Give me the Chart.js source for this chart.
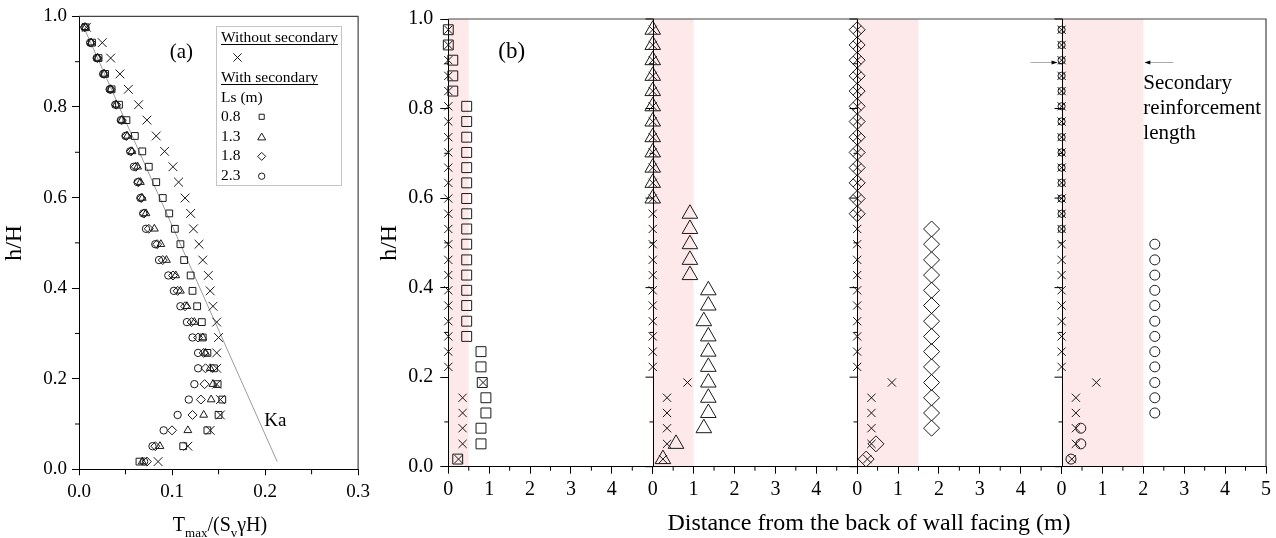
<!DOCTYPE html>
<html>
<head>
<meta charset="utf-8">
<script src="https://cdn.jsdelivr.net/npm/chart.js@4.4.1/dist/chart.umd.min.js"></script>
<style>
  html, body { margin: 0; padding: 0; background: #fff; }
  #wrap { position: relative; width: 1276px; height: 538px; overflow: hidden; }
  #boxA { position: absolute; left: 0; top: 0; width: 375px; height: 538px; }
  #boxB { position: absolute; left: 375px; top: 0; width: 901px; height: 538px; }
</style>
</head>
<body>
<div id="wrap">
  <div id="boxA"><canvas id="chartA"></canvas></div>
  <div id="boxB"><canvas id="chartB"></canvas></div>
</div>
<script>
// h/H of the 29 reinforcement layers, bottom to top
const levels = [0.017, 0.051, 0.086, 0.120, 0.154, 0.188, 0.223, 0.257, 0.291, 0.325,
  0.360, 0.394, 0.428, 0.462, 0.497, 0.531, 0.565, 0.599, 0.634, 0.668,
  0.702, 0.736, 0.771, 0.805, 0.839, 0.873, 0.908, 0.942, 0.976];

// secondary reinforcement lengths Ls (m)
const lsLengths = [0.8, 1.3, 1.8, 2.3];

// panel (a): Tmax/(Sv*gamma*H) per layer
const tWithout = [0.085, 0.117, 0.141, 0.152, 0.152, 0.148, 0.148, 0.148, 0.150, 0.148,
  0.144, 0.141, 0.139, 0.133, 0.129, 0.123, 0.120, 0.114, 0.107, 0.101,
  0.092, 0.083, 0.073, 0.064, 0.053, 0.044, 0.034, 0.025, 0.008];
const tLs08 = [0.065, 0.112, 0.138, 0.150, 0.154, 0.149, 0.145, 0.138, 0.133, 0.132,
  0.127, 0.122, 0.120, 0.113, 0.109, 0.103, 0.097, 0.090, 0.083, 0.075,
  0.068, 0.060, 0.051, 0.043, 0.035, 0.028, 0.021, 0.014, 0.007];
const tLs13 = [0.068, 0.087, 0.117, 0.134, 0.142, 0.144, 0.141, 0.136, 0.133, 0.124,
  0.116, 0.109, 0.104, 0.094, 0.088, 0.081, 0.072, 0.068, 0.066, 0.063,
  0.057, 0.052, 0.046, 0.040, 0.034, 0.027, 0.020, 0.013, 0.007];
const tLs18 = [0.073, 0.082, 0.100, 0.122, 0.131, 0.135, 0.136, 0.134, 0.128, 0.121,
  0.114, 0.106, 0.101, 0.090, 0.084, 0.075, 0.070, 0.067, 0.064, 0.061,
  0.056, 0.051, 0.046, 0.040, 0.034, 0.027, 0.020, 0.013, 0.006];
const tLs23 = [0.070, 0.079, 0.091, 0.106, 0.118, 0.124, 0.128, 0.128, 0.122, 0.116,
  0.109, 0.102, 0.096, 0.086, 0.082, 0.072, 0.069, 0.066, 0.063, 0.059,
  0.055, 0.050, 0.045, 0.039, 0.033, 0.026, 0.019, 0.012, 0.006];

// Ka line end points
const kaT = [0.0054, 0.213];
const kaH = [0.975, 0.017];

// panel (b): distance of Tmax from the back of wall facing (m)
const dWithout = [0.25, 0.35, 0.35, 0.35, 0.35, 0.85, 0, 0, 0, 0,
  0, 0, 0, 0, 0, 0, 0, 0, 0, 0,
  0, 0, 0, 0, 0, 0, 0, 0, 0];
const dLs08 = [0.23, 0.80, 0.80, 0.92, 0.92, 0.83, 0.80, 0.80, 0.45, 0.45,
  0.45, 0.45, 0.45, 0.45, 0.45, 0.45, 0.45, 0.45, 0.45, 0.45,
  0.45, 0.45, 0.45, 0.45, 0.11, 0.11, 0.11, 0, 0];
const dLs13 = [0.25, 0.57, 1.25, 1.36, 1.36, 1.36, 1.36, 1.36, 1.36, 1.25,
  1.36, 1.36, 0.91, 0.91, 0.91, 0.91, 0.91, 0, 0, 0,
  0, 0, 0, 0, 0, 0, 0, 0, 0];
const dLs18 = [0.22, 0.46, 1.82, 1.82, 1.82, 1.82, 1.82, 1.82, 1.82, 1.82,
  1.82, 1.82, 1.82, 1.82, 1.82, 1.82, 0, 0, 0, 0,
  0, 0, 0, 0, 0, 0, 0, 0, 0];
const dLs23 = [0.23, 0.47, 0.47, 2.28, 2.28, 2.28, 2.28, 2.28, 2.28, 2.28,
  2.28, 2.28, 2.28, 2.28, 2.28, 0, 0, 0, 0, 0,
  0, 0, 0, 0, 0, 0, 0, 0, 0];

// shaded zone end (m) in each block of panel (b)
const shadeTo = [0.5, 1.0, 1.5, 2.0];
// annotation arrow height (h/H) and text
const arrowH = 0.904;
const secLabel = ['Secondary', 'reinforcement', 'length'];

const SERIF = '"Liberation Serif", "Times New Roman", serif';
Chart.defaults.font.family = SERIF;
Chart.defaults.color = '#000';

const INK = '#1a1a1a';
const NONE = 'rgba(0,0,0,0)';

function pts(xs) {
  return levels.map((h, i) => ({ x: xs[i], y: h }));
}

function marker(label, data, style, radius, extra) {
  return Object.assign({
    label: label,
    data: data,
    pointStyle: style,
    pointRadius: radius,
    pointBorderColor: INK,
    pointBackgroundColor: NONE,
    pointBorderWidth: 1,
    clip: false
  }, extra || {});
}

// same geometry as Chart.js point styles, for the hand-made legend
function drawMarker(ctx, style, r, x, y) {
  ctx.beginPath();
  if (style === 'rect') {
    const s = Math.SQRT1_2 * r;
    ctx.rect(x - s, y - s, 2 * s, 2 * s);
  } else if (style === 'triangle') {
    let a = 0;
    ctx.moveTo(x + Math.sin(a) * r, y - Math.cos(a) * r);
    a += 2 * Math.PI / 3;
    ctx.lineTo(x + Math.sin(a) * r, y - Math.cos(a) * r);
    a += 2 * Math.PI / 3;
    ctx.lineTo(x + Math.sin(a) * r, y - Math.cos(a) * r);
    ctx.closePath();
  } else if (style === 'rectRot') {
    ctx.moveTo(x - r, y); ctx.lineTo(x, y - r); ctx.lineTo(x + r, y); ctx.lineTo(x, y + r);
    ctx.closePath();
  } else if (style === 'circle') {
    ctx.arc(x, y, r, 0, Math.PI * 2);
  } else if (style === 'crossRot') {
    const s = Math.SQRT1_2 * r;
    ctx.moveTo(x - s, y - s); ctx.lineTo(x + s, y + s);
    ctx.moveTo(x + s, y - s); ctx.lineTo(x - s, y + s);
  }
  ctx.stroke();
}

function tickMarks(ctx, scale, values, len, dir, other) {
  ctx.beginPath();
  values.forEach(v => {
    const p = scale.getPixelForValue(v);
    if (scale.isHorizontal()) {
      ctx.moveTo(p, other); ctx.lineTo(p, other + len * dir);
    } else {
      ctx.moveTo(other, p); ctx.lineTo(other + len * dir, p);
    }
  });
  ctx.stroke();
}

const lsStyles = ['rect', 'triangle', 'rectRot', 'circle'];

// ---------- panel (a) ----------
const panelA = {
  id: 'panelA',
  afterDraw(chart) {
    const { ctx, chartArea: a, scales } = chart;
    ctx.save();
    // frame
    ctx.strokeStyle = '#444';
    ctx.lineWidth = 1.2;
    ctx.beginPath();
    ctx.moveTo(a.left, a.top); ctx.lineTo(a.right, a.top); ctx.lineTo(a.right, a.bottom);
    ctx.stroke();
    // minor ticks
    ctx.strokeStyle = '#000';
    ctx.lineWidth = 1;
    tickMarks(ctx, scales.y, [0.1, 0.3, 0.5, 0.7, 0.9], 4, -1, a.left);
    tickMarks(ctx, scales.x, [0.05, 0.15, 0.25], 5, 1, a.bottom);

    // legend box
    ctx.strokeStyle = '#c4c4c4';
    ctx.strokeRect(216.5, 26.5, 125, 159);
    ctx.fillStyle = '#000';
    ctx.font = '15.5px ' + SERIF;
    ctx.textAlign = 'left';
    ctx.textBaseline = 'middle';
    ctx.strokeStyle = '#000';
    const under = (t, y) => {
      ctx.fillText(t, 221, y);
      const w = ctx.measureText(t).width;
      ctx.beginPath(); ctx.moveTo(221, y + 7); ctx.lineTo(221 + w, y + 7); ctx.stroke();
    };
    under('Without secondary', 37.5);
    ctx.strokeStyle = INK;
    drawMarker(ctx, 'crossRot', 5.8, 237.5, 57.5);
    ctx.strokeStyle = '#000';
    under('With secondary', 77.5);
    ctx.fillText('Ls (m)', 221, 98);
    const legR = [3.6, 4.6, 4, 3.2];
    lsLengths.forEach((ls, i) => {
      const y = 116.8 + 19.8 * i;
      ctx.fillStyle = '#000';
      ctx.fillText(ls.toFixed(1), 221, y);
      ctx.strokeStyle = INK;
      drawMarker(ctx, lsStyles[i], legR[i], 261.7, y + (lsStyles[i] === 'triangle' ? 1 : 0));
    });

    // (a) and Ka labels
    ctx.textAlign = 'center';
    ctx.font = '21px ' + SERIF;
    ctx.fillText('(a)', scales.x.getPixelForValue(0.11), scales.y.getPixelForValue(0.92));
    ctx.font = '19px ' + SERIF;
    ctx.fillText('Ka', scales.x.getPixelForValue(0.211), scales.y.getPixelForValue(0.107));

    // x title with subscripts
    const parts = [['T', 20, 0], ['max', 13, 6], ['/(S', 20, 0], ['v', 13, 6], ['\u03B3H)', 20, 0]];
    let total = 0;
    parts.forEach(p => { ctx.font = p[1] + 'px ' + SERIF; total += ctx.measureText(p[0]).width; });
    let x = 220 - total / 2;
    ctx.textAlign = 'left';
    ctx.textBaseline = 'alphabetic';
    parts.forEach(p => {
      ctx.font = p[1] + 'px ' + SERIF;
      ctx.fillText(p[0], x, 531 + p[2]);
      x += ctx.measureText(p[0]).width;
    });
    ctx.restore();
  }
};

new Chart(document.getElementById('chartA'), {
  type: 'scatter',
  data: {
    datasets: [
      marker('Without secondary', pts(tWithout), 'crossRot', 6.2),
      marker('0.8', pts(tLs08), 'rect', 4.8),
      marker('1.3', pts(tLs13), 'triangle', 4.5),
      marker('1.8', pts(tLs18), 'rectRot', 4.5),
      marker('2.3', pts(tLs23), 'circle', 3.7),
      {
        label: 'Ka',
        data: kaT.map((t, i) => ({ x: t, y: kaH[i] })),
        showLine: true,
        borderColor: '#9c9c9c',
        borderWidth: 1,
        pointRadius: 0,
        clip: false
      }
    ]
  },
  options: {
    responsive: true,
    maintainAspectRatio: false,
    animation: false,
    events: [],
    layout: { padding: { top: 16, right: 15, left: 0, bottom: 0 } },
    plugins: { legend: { display: false }, tooltip: { enabled: false } },
    scales: {
      x: {
        type: 'linear', min: 0, max: 0.3,
        afterFit: s => { s.height = 68.7; },
        ticks: { stepSize: 0.1, callback: v => v.toFixed(1), font: { size: 19 }, padding: 5, maxRotation: 0, autoSkip: false },
        grid: { drawOnChartArea: false, tickLength: 6, tickColor: '#000' },
        border: { color: '#000', width: 1 }
      },
      y: {
        type: 'linear', min: 0, max: 1,
        afterFit: s => { s.width = 79; },
        ticks: { stepSize: 0.2, callback: v => v.toFixed(1), font: { size: 19 }, padding: 5, autoSkip: false },
        grid: { drawOnChartArea: false, tickLength: 7, tickColor: '#000' },
        border: { color: '#000', width: 1 },
        title: { display: true, text: 'h/H', font: { size: 24 }, padding: { top: 0, bottom: 0 } }
      }
    }
  },
  plugins: [panelA]
});

// ---------- panel (b) ----------
const segAxes = ['x0', 'x1', 'x2', 'x3'];

const panelB = {
  id: 'panelB',
  beforeDraw(chart) {
    const { ctx, chartArea: a, scales } = chart;
    ctx.save();
    ctx.fillStyle = '#fde8ea';
    segAxes.forEach((id, k) => {
      const s = scales[id];
      const x0 = s.getPixelForValue(0), x1 = s.getPixelForValue(shadeTo[k]);
      ctx.fillRect(x0, a.top, x1 - x0, a.bottom - a.top);
    });
    ctx.restore();
  },
  afterDraw(chart) {
    const { ctx, chartArea: a, scales } = chart;
    const ys = scales.y;
    ctx.save();
    // frame
    ctx.strokeStyle = '#444';
    ctx.lineWidth = 1.2;
    ctx.beginPath();
    ctx.moveTo(a.left, a.top); ctx.lineTo(a.right, a.top); ctx.lineTo(a.right, a.bottom);
    ctx.stroke();

    ctx.strokeStyle = '#000';
    ctx.lineWidth = 1;
    const major = [0, 0.2, 0.4, 0.6, 0.8, 1.0];
    const minor = [0.1, 0.3, 0.5, 0.7, 0.9];
    tickMarks(ctx, ys, minor, 4, -1, a.left);
    // wall lines of blocks 2-4 with their own ticks
    segAxes.slice(1).forEach(id => {
      const px = Math.round(scales[id].getPixelForValue(0)) + 0.5;
      ctx.beginPath(); ctx.moveTo(px, a.top); ctx.lineTo(px, a.bottom); ctx.stroke();
      tickMarks(ctx, ys, major, 8, -1, px);
      tickMarks(ctx, ys, minor, 4, -1, px);
    });
    // minor ticks on the distance axes
    segAxes.forEach(id => {
      tickMarks(ctx, scales[id], [0.5, 1.5, 2.5, 3.5, 4.5], 4, 1, a.bottom);
    });

    // secondary reinforcement length arrows
    const s3 = scales.x3;
    const y = Math.round(ys.getPixelForValue(arrowH)) + 0.5;
    const xa = s3.getPixelForValue(0), xb = s3.getPixelForValue(shadeTo[3]);
    ctx.strokeStyle = '#aaa';
    ctx.beginPath();
    ctx.moveTo(xa - 31, y); ctx.lineTo(xa - 8, y);
    ctx.moveTo(xb + 6, y); ctx.lineTo(xb + 30, y);
    ctx.stroke();
    ctx.fillStyle = '#000';
    ctx.beginPath();
    ctx.moveTo(xa - 4, y); ctx.lineTo(xa - 10, y - 2); ctx.lineTo(xa - 10, y + 2); ctx.closePath();
    ctx.moveTo(xb + 1, y); ctx.lineTo(xb + 7, y - 2); ctx.lineTo(xb + 7, y + 2); ctx.closePath();
    ctx.fill();
    ctx.font = '21px ' + SERIF;
    ctx.textAlign = 'left';
    ctx.textBaseline = 'middle';
    secLabel.forEach((t, i) => ctx.fillText(t, xb, y + 21 + 25 * i));

    // (b) label
    ctx.textAlign = 'center';
    ctx.font = '23px ' + SERIF;
    ctx.fillText('(b)', scales.x0.getPixelForValue(1.55), ys.getPixelForValue(0.926));

    // x title
    ctx.font = '24px ' + SERIF;
    ctx.textBaseline = 'alphabetic';
    ctx.fillText('Distance from the back of wall facing (m)', 494, 530);
    ctx.restore();
  }
};

function distAxis(id) {
  return {
    type: 'linear', position: 'bottom', stack: 'dist', stackWeight: 1,
    min: 0, max: 5,
    afterFit: s => { s.height = 71.3; },
    ticks: {
      stepSize: 1, autoSkip: false, maxRotation: 0, font: { size: 20 }, padding: 4,
      callback: v => (v === 5 && id !== 'x3') ? '' : String(v)
    },
    grid: { drawOnChartArea: false, tickLength: 7, tickColor: '#000' },
    border: { color: '#000', width: 1 }
  };
}

const withoutB = (id) => marker('Without secondary', pts(dWithout), 'crossRot', 5.8, { xAxisID: id });

new Chart(document.getElementById('chartB'), {
  type: 'scatter',
  data: {
    datasets: [
      withoutB('x0'),
      marker('0.8', pts(dLs08), 'rect', 7, { xAxisID: 'x0' }),
      withoutB('x1'),
      marker('1.3', pts(dLs13), 'triangle', 9, { xAxisID: 'x1' }),
      withoutB('x2'),
      marker('1.8', pts(dLs18), 'rectRot', 8, { xAxisID: 'x2' }),
      withoutB('x3'),
      marker('2.3', pts(dLs23), 'circle', c => (c.raw && c.raw.x === 0 ? 3.6 : 5), { xAxisID: 'x3' })
    ]
  },
  options: {
    responsive: true,
    maintainAspectRatio: false,
    animation: false,
    events: [],
    layout: { padding: { top: 19, right: 9.3, left: 0, bottom: 0 } },
    plugins: { legend: { display: false }, tooltip: { enabled: false } },
    scales: {
      x0: distAxis('x0'),
      x1: distAxis('x1'),
      x2: distAxis('x2'),
      x3: distAxis('x3'),
      y: {
        type: 'linear', position: 'left', min: 0, max: 1,
        afterFit: s => { s.width = 73.3; },
        ticks: { stepSize: 0.2, callback: v => v.toFixed(1), font: { size: 20 }, padding: 7, autoSkip: false },
        grid: { drawOnChartArea: false, tickLength: 8, tickColor: '#000' },
        border: { color: '#000', width: 1 },
        title: { display: true, text: 'h/H', font: { size: 24 }, padding: { top: 0, bottom: 0 } }
      }
    }
  },
  plugins: [panelB]
});
</script>
</body>
</html>
